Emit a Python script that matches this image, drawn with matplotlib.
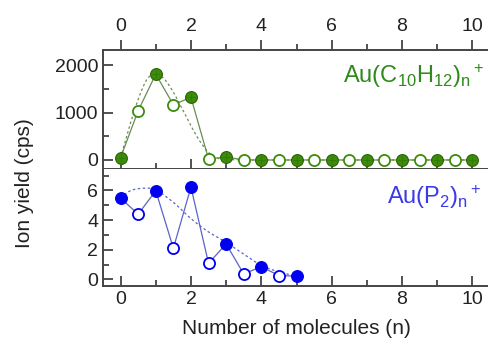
import numpy as np
import matplotlib
matplotlib.use("Agg")
from matplotlib import pyplot as plt

plt.rcParams['font.family'] = ['Liberation Sans', 'DejaVu Sans']
plt.rcParams['mathtext.fontset'] = 'custom'
plt.rcParams['mathtext.rm'] = 'Liberation Sans'
plt.rcParams['mathtext.it'] = 'Liberation Sans'

# Au(C10H12)n+ yields (cps), full and half-integer n
n_full = [0, 1, 2, 3, 4, 5, 6, 7, 8, 9, 10]
n_half = [0.5, 1.5, 2.5, 3.5, 4.5, 5.5, 6.5, 7.5, 8.5, 9.5]
c10_full = [50, 1810, 1320, 65, 0, 0, 0, 0, 0, 0, 0]
c10_half = [1040, 1165, 20, 0, 0, 0, 0, 0, 0, 0]
# smoothed trend for the C10H12 series
c10_trend_x = [0, 0.25, 0.5, 0.75, 1.0, 1.25, 1.5, 1.75, 2.0, 2.25, 2.5, 2.75, 3.0, 4, 5, 6, 7, 8, 9, 10]
c10_trend_y = [50, 700, 1280, 1700, 1820, 1700, 1430, 1080, 720, 400, 160, 40, 10, 0, 0, 0, 0, 0, 0, 0]

# Au(P2)n+ yields (cps)
p2_full_n = [0, 1, 2, 3, 4, 5]
p2_half_n = [0.5, 1.5, 2.5, 3.5, 4.5]
p2_full = [5.48, 5.98, 6.23, 2.39, 0.86, 0.22]
p2_half = [4.4, 2.1, 1.08, 0.36, 0.25]
p2_trend_x = [0, 0.25, 0.5, 0.75, 1.0, 1.5, 2.0, 2.5, 3.0, 3.5, 4.0, 4.5, 5.0]
p2_trend_y = [5.48, 5.95, 6.12, 6.15, 6.05, 5.2, 4.1, 3.2, 2.5, 1.7, 0.95, 0.5, 0.22]

green = '#3c8c0c'
green_dark = '#2a6400'
green_line = '#6c8c54'
blue = '#0000f0'
blue_line = '#5a64c8'
ink = '#222222'
axis_col = '#444444'


def merge(xa, ya, xb, yb):
    pts = sorted(zip(list(xa) + list(xb), list(ya) + list(yb)))
    return [p[0] for p in pts], [p[1] for p in pts]


def smooth(xs, ys, steps=12):
    # Catmull-Rom curve through the trend knots
    x = np.asarray(xs, float)
    y = np.asarray(ys, float)
    px = np.concatenate([[2 * x[0] - x[1]], x, [2 * x[-1] - x[-2]]])
    py = np.concatenate([[2 * y[0] - y[1]], y, [2 * y[-1] - y[-2]]])
    outx, outy = [], []
    t = np.linspace(0, 1, steps, endpoint=False)
    for i in range(1, len(px) - 2):
        for arr, out in ((px, outx), (py, outy)):
            p0, p1, p2, p3 = arr[i - 1], arr[i], arr[i + 1], arr[i + 2]
            out.extend(0.5 * (2 * p1 + (-p0 + p2) * t + (2 * p0 - 5 * p1 + 4 * p2 - p3) * t ** 2
                              + (-p0 + 3 * p1 - 3 * p2 + p3) * t ** 3))
    outx.append(x[-1])
    outy.append(y[-1])
    return outx, outy


def style_axes(ax):
    for s in ['left', 'top', 'bottom']:
        ax.spines[s].set_linewidth(1.4)
        ax.spines[s].set_color(axis_col)
    ax.spines['right'].set_visible(False)
    ax.set_xlim(-0.5, 10.5)
    ax.set_xticks([0, 2, 4, 6, 8, 10])
    ax.set_xticks([1, 3, 5, 7, 9], minor=True)
    ax.tick_params(which='both', direction='in', width=1.3, color=axis_col,
                   labelsize=14, labelcolor=ink, right=False)
    ax.tick_params(which='major', length=7)
    ax.tick_params(which='minor', length=4)


fig = plt.figure(figsize=(4.89, 3.51), dpi=100)
ax1 = fig.add_axes([103 / 489, (351 - 169) / 351, 387 / 489, 119 / 351])
ax2 = fig.add_axes([103 / 489, (351 - 286) / 351, 387 / 489, 117 / 351])

# top panel
style_axes(ax1)
ax1.set_ylim(-190, 2320)
ax1.set_yticks([0, 1000, 2000])
ax1.set_yticks([500, 1500], minor=True)
ax1.tick_params(axis='x', labelbottom=False, top=False)
ax1.spines['top'].set_visible(False)
sec = ax1.secondary_xaxis('top')
sec.set_xticks([0, 2, 4, 6, 8, 10])
sec.set_xticks([1, 3, 5, 7, 9], minor=True)
sec.spines['top'].set_linewidth(1.4)
sec.spines['top'].set_color(axis_col)
sec.tick_params(which='both', direction='out', width=1.3, color=axis_col,
                labelsize=14, labelcolor=ink, pad=4)
sec.tick_params(which='major', length=7)
sec.tick_params(which='minor', length=4)

tx, ty = smooth(c10_trend_x, c10_trend_y)
ax1.plot(tx, ty, ls=(0, (2, 2)), color=green_line, lw=0.9, zorder=2)
mx, my = merge(n_full, c10_full, n_half, c10_half)
ax1.plot(mx, my, '-', color=green_line, lw=0.9, zorder=2)
ax1.plot(n_half, c10_half, 'o', ms=8, mfc='white', mec=green, mew=1.3, zorder=3)
ax1.plot(n_full, c10_full, 'o', ms=8.5, mfc=green, mec=green_dark, mew=0.8, zorder=3)
ax1.plot(n_full, c10_full, '+', ms=6, mec=green_dark, mew=0.5, alpha=0.6, zorder=4)
ax1.text(0.985, 0.72, r'Au(C$_{10}$H$_{12}$)$_{\rm n}$$^+$', transform=ax1.transAxes,
         ha='right', va='baseline', fontsize=17, color='#2e8a1a')

# bottom panel
style_axes(ax2)
ax2.spines['top'].set_visible(False)
ax2.tick_params(axis='x', top=False)
ax2.set_ylim(-0.45, 7.45)
ax2.set_yticks([0, 2, 4, 6])
ax2.set_yticks([1, 3, 5, 7], minor=True)

tx, ty = smooth(p2_trend_x, p2_trend_y)
ax2.plot(tx, ty, ls=(0, (2, 2)), color=blue_line, lw=0.9, zorder=2)
mx, my = merge(p2_full_n, p2_full, p2_half_n, p2_half)
ax2.plot(mx, my, '-', color=blue_line, lw=0.9, zorder=2)
ax2.plot(p2_half_n, p2_half, 'o', ms=8, mfc='white', mec=blue, mew=1.3, zorder=3)
ax2.plot(p2_full_n, p2_full, 'o', ms=8.5, mfc=blue, mec=blue, mew=0.8, zorder=3)
ax2.text(0.735, 0.70, r'Au(P$_2$)$_{\rm n}$$^+$', transform=ax2.transAxes,
         ha='left', va='baseline', fontsize=17, color='#3a3ae6')

ax2.set_xlabel('Number of molecules (n)', fontsize=15, color=ink, labelpad=8)
fig.text(0.051, 168 / 351, 'Ion yield (cps)', rotation=90, ha='center', va='center',
         fontsize=15, color=ink)

fig.savefig('out.png', dpi=100)
